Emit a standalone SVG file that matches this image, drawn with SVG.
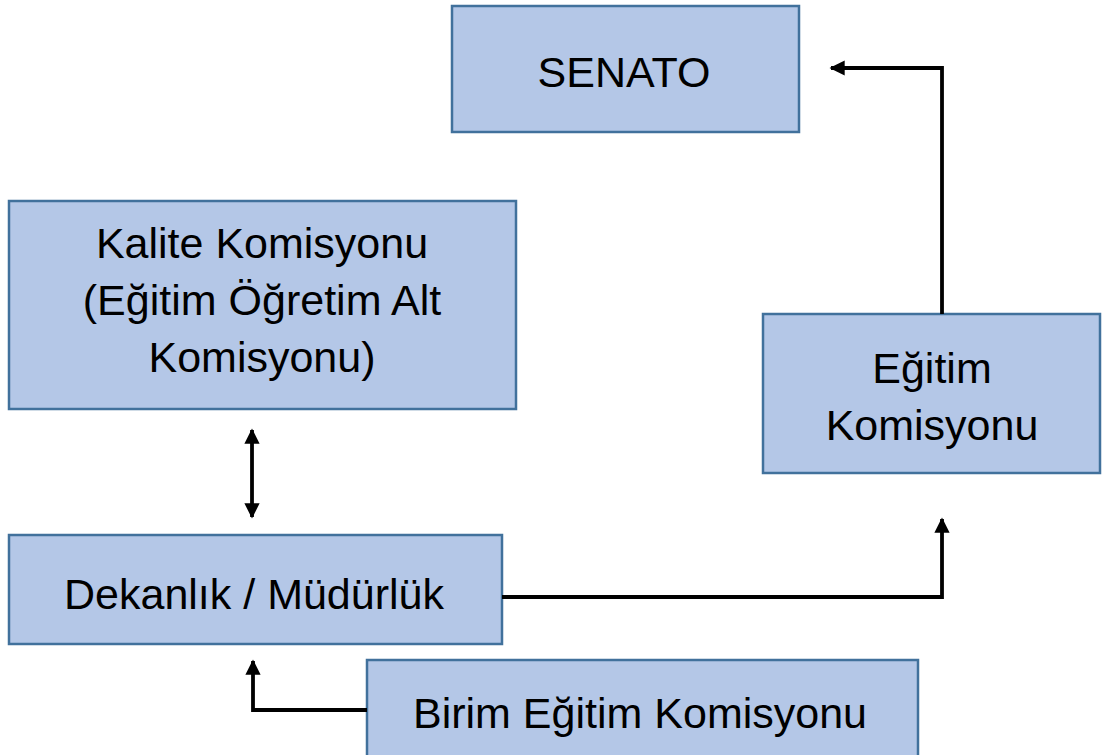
<svg xmlns="http://www.w3.org/2000/svg" width="1102" height="755" viewBox="0 0 1102 755">
<style>
.box{fill:#B4C7E7;stroke:#41719C;stroke-width:2.5}
.t{font-family:"Liberation Sans",Arial,sans-serif;font-size:43px;fill:#000;text-anchor:middle}
.c{fill:none;stroke:#000;stroke-width:3.8}
</style>
<defs>
<marker id="ah" viewBox="0 0 10 10" refX="9" refY="5" markerWidth="4" markerHeight="4" orient="auto-start-reverse" markerUnits="strokeWidth">
<path d="M0,0 L10,5 L0,10 z" fill="#000"/>
</marker>
</defs>
<rect width="1102" height="755" fill="#fff"/>
<g id="senato"><rect class="box" x="452" y="6" width="347" height="126"/><text class="t" x="624" y="87">SENATO</text></g>
<g id="kalite"><rect class="box" x="9" y="201" width="507" height="208"/><text class="t" x="262" y="258">Kalite Komisyonu</text><text class="t" x="262" y="315">(Eğitim Öğretim Alt</text><text class="t" x="262" y="372">Komisyonu)</text></g>
<g id="egitim"><rect class="box" x="763" y="314" width="337" height="159"/><text class="t" x="932" y="383">Eğitim</text><text class="t" x="932" y="440">Komisyonu</text></g>
<g id="dekanlik"><rect class="box" x="9" y="535" width="493" height="109"/><text class="t" x="254" y="609">Dekanlık / Müdürlük</text></g>
<g id="birim"><rect class="box" x="367" y="660" width="551" height="100"/><text class="t" x="640" y="728">Birim Eğitim Komisyonu</text></g>
<g id="connectors">
<path class="c" d="M942,314 V68 H831" marker-end="url(#ah)"/>
<path class="c" d="M252,430 V517" marker-start="url(#ah)" marker-end="url(#ah)"/>
<path class="c" d="M502,597 H942 V519" marker-end="url(#ah)"/>
<path class="c" d="M367,710 H253 V661" marker-end="url(#ah)"/>
</g>
</svg>
